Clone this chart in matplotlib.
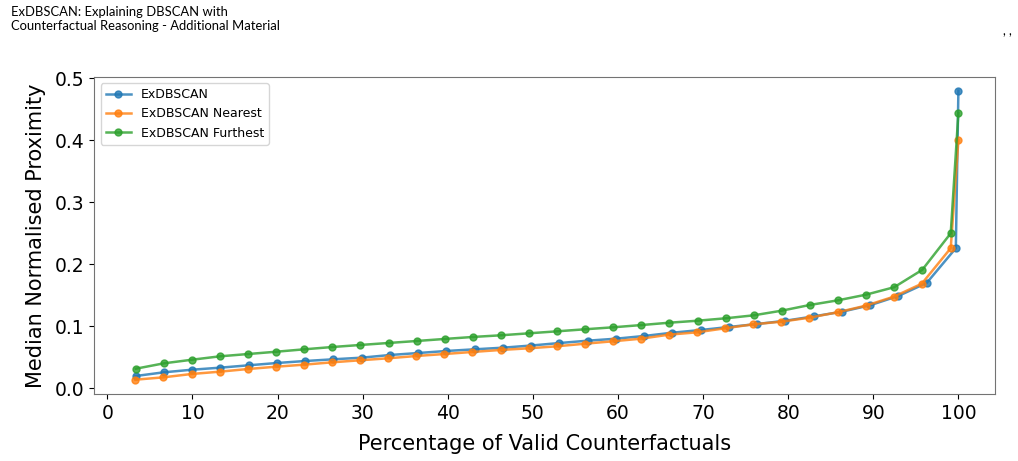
import matplotlib.pyplot as plt

# percentage of valid counterfactuals (x) and median normalised proximity (y)
x_base = [3.32, 6.64, 9.96, 13.28, 16.6, 19.92, 23.24, 26.56, 29.88, 33.2,
          36.52, 39.84, 43.16, 46.48, 49.8, 53.12, 56.44, 59.76, 63.08, 66.4,
          69.72, 73.04, 76.36, 79.68, 83.0, 86.32, 89.64, 92.96, 96.28, 99.7, 100]
y_base = [0.0198, 0.0258, 0.030, 0.0333, 0.0371, 0.0408, 0.044, 0.0468, 0.0494, 0.0537,
          0.0569, 0.0602, 0.0629, 0.0655, 0.069, 0.073, 0.0768, 0.080, 0.0844, 0.0897,
          0.094, 0.0989, 0.1037, 0.109, 0.116, 0.1235, 0.134, 0.149, 0.170, 0.226, 0.48]

x_near = [3.3, 6.6, 9.9, 13.2, 16.5, 19.8, 23.1, 26.4, 29.7, 33.0,
          36.3, 39.6, 42.9, 46.2, 49.5, 52.8, 56.1, 59.4, 62.7, 66.0,
          69.3, 72.6, 75.9, 79.2, 82.5, 85.8, 89.1, 92.4, 95.7, 99.1, 100]
y_near = [0.0139, 0.0177, 0.0231, 0.0268, 0.0311, 0.0348, 0.0381, 0.0419, 0.0452, 0.0484,
          0.0521, 0.0553, 0.0586, 0.0618, 0.0645, 0.0677, 0.0719, 0.0758, 0.080, 0.0865,
          0.0903, 0.0968, 0.1032, 0.1074, 0.1139, 0.1226, 0.1332, 0.1477, 0.1687, 0.226, 0.40]

x_far = [3.35, 6.65, 9.95, 13.25, 16.55, 19.85, 23.15, 26.45, 29.75, 33.05,
         36.35, 39.65, 42.95, 46.25, 49.55, 52.85, 56.15, 59.45, 62.75, 66.05,
         69.35, 72.65, 75.95, 79.25, 82.55, 85.85, 89.15, 92.45, 95.75, 99.1, 100]
y_far = [0.0316, 0.0403, 0.0461, 0.0516, 0.0553, 0.0590, 0.0629, 0.0666, 0.0699, 0.0731,
         0.0763, 0.0796, 0.0828, 0.0855, 0.0887, 0.0919, 0.0952, 0.0984, 0.102, 0.1058,
         0.109, 0.1129, 0.1177, 0.1252, 0.1344, 0.1419, 0.151, 0.163, 0.191, 0.25, 0.444]

labels = ["ExDBSCAN", "ExDBSCAN Nearest", "ExDBSCAN Furthest"]

fig = plt.figure(figsize=(10.18, 4.61), dpi=100)
ax = fig.add_axes([0.0926, 0.1453, 0.8848, 0.6877])

for xs, ys, lab in zip([x_base, x_near, x_far], [y_base, y_near, y_far], labels):
    ax.plot(xs, ys, marker='o', markersize=5, linewidth=1.8, alpha=0.8, label=lab)

ax.set_xlim(-1.53, 104.3)
ax.set_ylim(-0.0092, 0.502)
ax.set_xticks(range(0, 101, 10))
ax.set_yticks([0.0, 0.1, 0.2, 0.3, 0.4, 0.5])
ax.tick_params(labelsize=13.5)
ax.set_xlabel("Percentage of Valid Counterfactuals", fontsize=15, labelpad=8)
ax.set_ylabel("Median Normalised Proximity", fontsize=15, labelpad=6)
for s in ax.spines.values():
    s.set_color('0.45')
ax.legend(loc='upper left', fontsize=9)

# page header from the paper
fig.text(0.0105, 0.988, "ExDBSCAN: Explaining DBSCAN with\nCounterfactual Reasoning - Additional Material",
         ha='left', va='top', fontsize=9.4, family='Lato', linespacing=1.25)
fig.text(0.994, 0.945, ", ,", ha='right', va='top', fontsize=9, family='Lato')

fig.savefig("out.png", dpi=100)
